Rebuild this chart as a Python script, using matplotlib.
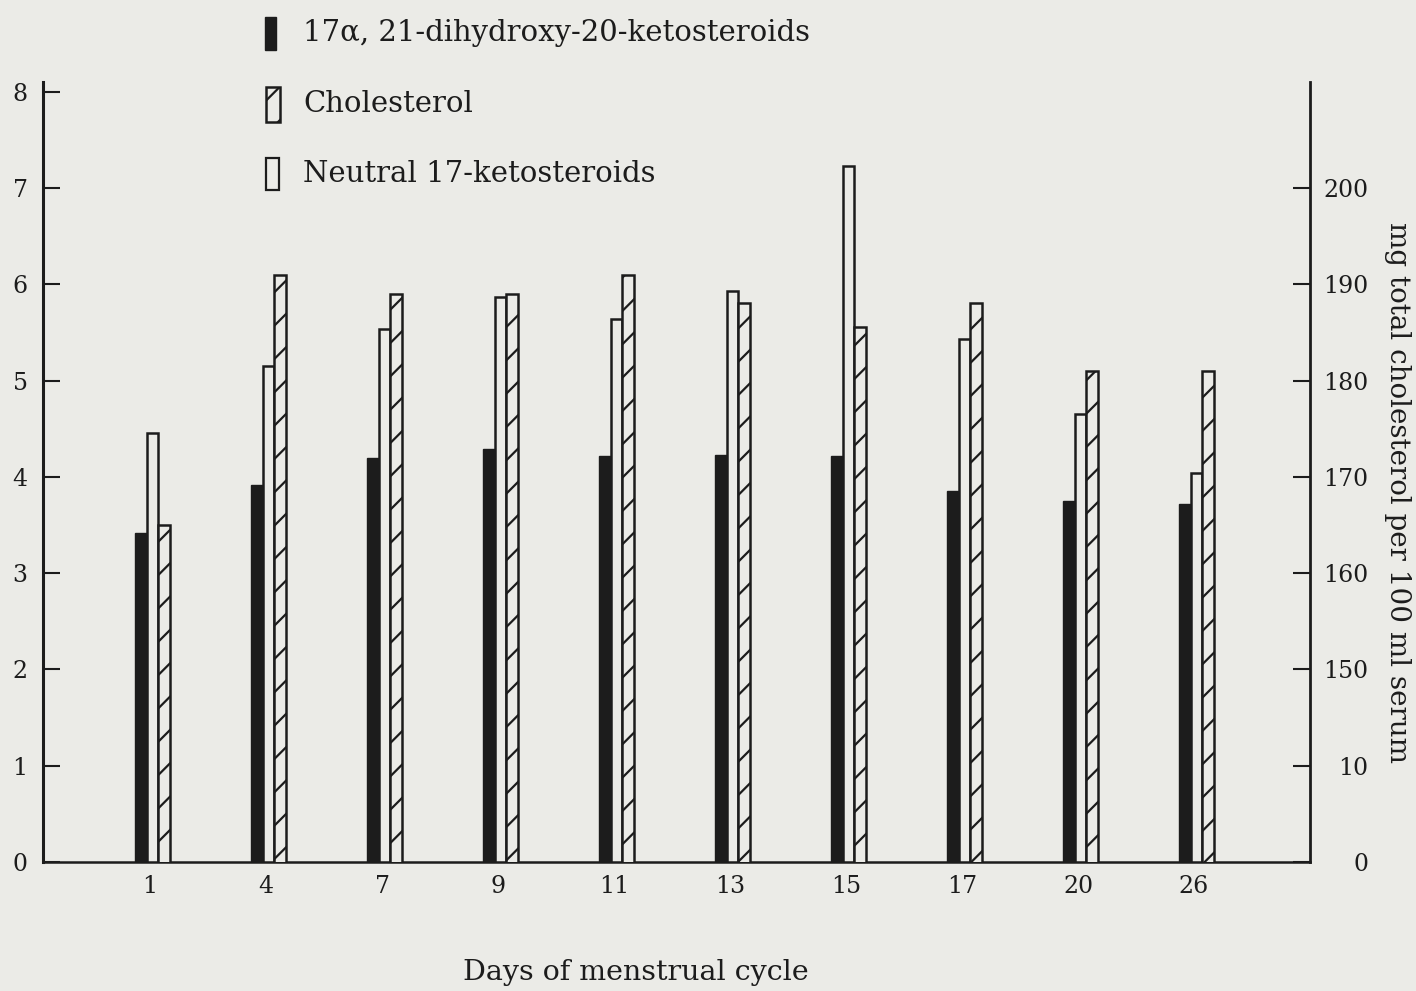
import matplotlib
matplotlib.use("Agg")
import matplotlib.pyplot as plt
from matplotlib.patches import Rectangle
import numpy as np

# ---- data ----
days = ["1", "4", "7", "9", "11", "13", "15", "17", "20", "26"]
dihydroxy = [3.42, 3.92, 4.20, 4.29, 4.22, 4.23, 4.22, 3.85, 3.75, 3.72]      # left axis
neutral17 = [4.45, 5.15, 5.53, 5.87, 5.64, 5.93, 7.23, 5.43, 4.65, 4.04]      # left axis
cholesterol_mg = [165, 191, 189, 189, 191, 188, 185.6, 188, 181, 181]          # right axis, mg/100 ml
left_ticks = [0, 1, 2, 3, 4, 5, 6, 7, 8]
right_tick_labels = ["0", "10", "150", "160", "170", "180", "190", "200"]
right_tick_values = [130, 140, 150, 160, 170, 180, 190, 200]   # broken scale: 0 and 10 drawn below 150

legend_labels = ["17\u03b1, 21-dihydroxy-20-ketosteroids", "Cholesterol", "Neutral 17-ketosteroids"]

# ---- style ----
W, H = 1416, 991
paper = "#ebebe7"
ink = "#1c1c1c"
plt.rcParams["font.family"] = ["DejaVu Serif"]
plt.rcParams["hatch.linewidth"] = 1.6
plt.rcParams["hatch.color"] = ink
fs_tick = 17
fs_text = 21

fig = plt.figure(figsize=(W / 100, H / 100), dpi=100, facecolor=paper)
ax_l, ax_r, ax_b, ax_t = 43, 1310, 862, 82
ax = fig.add_axes([ax_l / W, 1 - ax_b / H, (ax_r - ax_l) / W, (ax_b - ax_t) / H])
ax.set_facecolor(paper)

x = np.arange(len(days))
bw = 0.1
ax.bar(x - 0.08, dihydroxy, width=bw, color=ink, edgecolor=ink, linewidth=1.0, zorder=3)
ax.bar(x + 0.02, neutral17, width=bw, color=paper, edgecolor=ink, linewidth=1.8, zorder=3)

ax.set_xlim(-0.923, 10.0)
ax.set_ylim(0, 8.1)
ax.set_yticks(left_ticks)
ax.set_yticklabels([str(t) for t in left_ticks])
ax.set_xticks(x)
ax.set_xticklabels(days)
ax.tick_params(axis="x", length=0, pad=9.5, labelsize=fs_tick, colors=ink)
ax.tick_params(axis="y", direction="in", length=12, width=1.5, pad=11, labelsize=fs_tick, colors=ink)
for s in ["top", "right"]:
    ax.spines[s].set_visible(False)
ax.spines["left"].set_linewidth(2.2)
ax.spines["bottom"].set_linewidth(1.8)
ax.spines["left"].set_color(ink)
ax.spines["bottom"].set_color(ink)

ax2 = ax.twinx()
ax2.bar(x + 0.12, cholesterol_mg, width=bw, color=paper, edgecolor=ink, linewidth=1.8,
        hatch="/", zorder=3)
ax2.set_ylim(130, 130 + 81)
ax2.set_yticks(right_tick_values)
ax2.set_yticklabels(right_tick_labels)
ax2.tick_params(axis="y", direction="in", length=12, width=1.5, pad=42, labelsize=fs_tick, colors=ink)
for lab in ax2.get_yticklabels():
    lab.set_horizontalalignment("right")
for s in ["top", "left", "bottom"]:
    ax2.spines[s].set_visible(False)
ax2.spines["right"].set_linewidth(2.0)
ax2.spines["right"].set_color(ink)

# ---- legend (drawn manually) ----
def fig_rect(x0, y0, x1, y1, **kw):
    r = Rectangle((x0 / W, 1 - y1 / H), (x1 - x0) / W, (y1 - y0) / H,
                  transform=fig.transFigure, **kw)
    fig.add_artist(r)

fig_rect(265, 17, 276, 50, facecolor=ink, edgecolor=ink, linewidth=1)
fig_rect(266, 87, 280, 122, facecolor=paper, edgecolor=ink, linewidth=1.8, hatch="/")
fig_rect(266, 158, 279, 190, facecolor=paper, edgecolor=ink, linewidth=1.6)
for yc, lab in zip([33, 104, 174], legend_labels):
    fig.text(303 / W, 1 - yc / H, lab, fontsize=fs_text, color=ink, ha="left", va="center")

fig.text(636 / W, 1 - 972 / H, "Days of menstrual cycle", fontsize=20.5, color=ink,
         ha="center", va="center")
fig.text(1397 / W, 1 - 492 / H, "mg total cholesterol per 100 ml serum", fontsize=20,
         color=ink, ha="center", va="center", rotation=270)

fig.savefig("out.png", dpi=100, facecolor=paper)
